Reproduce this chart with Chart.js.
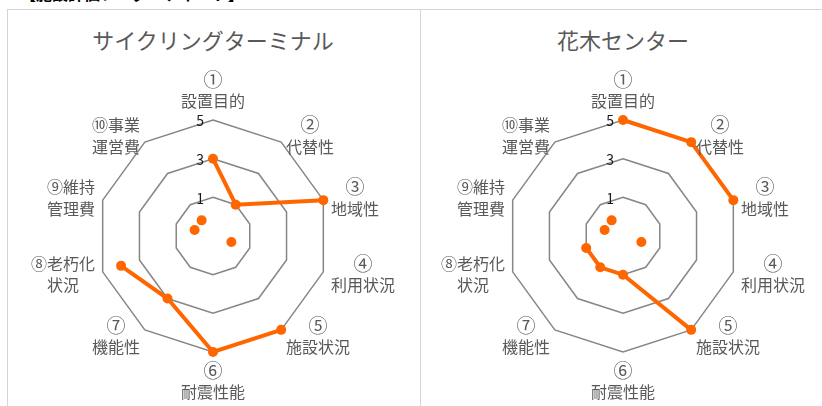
<!DOCTYPE html>
<html lang="ja">
<head>
<meta charset="utf-8">
<script src="https://cdn.jsdelivr.net/npm/chart.js@4/dist/chart.umd.min.js"></script>
<style>
  html, body { margin: 0; padding: 0; background: #fff; }
  body { width: 822px; height: 406px; position: relative; overflow: hidden;
         font-family: "Noto Sans CJK JP", "Noto Sans", sans-serif; }
  .header { position: absolute; left: 20px; top: -19px; font-size: 16px; font-weight: bold; color: #000; white-space: nowrap; }
  .frame { position: absolute; left: 7px; top: 9px; width: 830px; height: 410px;
           border-top: 1px solid #d4d4d4; border-left: 1px solid #d4d4d4; }
  .divider { position: absolute; left: 420px; top: 9px; height: 410px; border-left: 1px solid #d4d4d4; }
  .title { position: absolute; top: 24px; width: 420px; text-align: center; font-size: 22px; color: #595959; line-height: 30px; }
  canvas { position: absolute; top: 0; }
</style>
</head>
<body>
<div class="header">【施設評価レーダーチャート】</div>
<div class="frame"></div>
<div class="divider"></div>
<div class="title" style="left:3px">サイクリングターミナル</div>
<div class="title" style="left:413px">花木センター</div>
<canvas id="chartLeft" width="420" height="406" style="left:0px"></canvas>
<canvas id="chartRight" width="420" height="406" style="left:410px"></canvas>
<script>
// ============================ data

const categories = [
  ['①', '設置目的'], ['②', '代替性'], ['③', '地域性'], ['④', '利用状況'], ['⑤', '施設状況'],
  ['⑥', '耐震性能'], ['⑦', '機能性'], ['⑧老朽化', '状況'], ['⑨維持', '管理費'], ['⑩事業', '運営費']
];
const cyclingScores = [3, 1, 5, 0, 5, 5, 3, 4, 0, 0];
const flowerScores = [5, 5, 5, 0, 5, 1, 1, 1, 0, 0];
// items drawn only as a dot (no connecting line)
const unratedIndex = [3, 8, 9];
const tickValues = [1, 3, 5];

const orange = '#ff6600';
const labelFont = '16px "Noto Sans CJK JP", sans-serif';
const numberFont = '19px "Noto Sans CJK JP", sans-serif';

// ============================ text drawn on the radial scale

const radarText = {
  id: 'radarText',
  afterDraw(chart) {
    const r = chart.scales.r;
    const ctx = chart.ctx;
    ctx.save();

    ctx.font = '14px "Noto Sans CJK JP", sans-serif';
    ctx.fillStyle = '#1a1a1a';
    ctx.textAlign = 'right';
    ctx.textBaseline = 'middle';
    tickValues.forEach(v => {
      const y = r.yCenter - r.getDistanceFromCenterForValue(v);
      ctx.fillText(String(v), r.xCenter - 9, y + 1);
    });

    ctx.font = labelFont;
    ctx.fillStyle = '#595959';
    ctx.textAlign = 'center';
    const lh = 21.5;
    chart.data.labels.forEach((lines, i) => {
      const p = r.getPointPosition(i, r.drawingArea + 8);
      const a = r.getIndexAngle(i);
      const s = Math.sin(a), c = Math.cos(a);
      const w = Math.max(...lines.map(l => ctx.measureText(l).width));
      const h = lines.length * lh;
      let cx = p.x;
      let top = p.y - h / 2;
      if (s > 0.01) cx = p.x + w / 2;
      else if (s < -0.01) cx = p.x - w / 2;
      else top = c > 0 ? p.y - h : p.y;
      lines.forEach((l, k) => {
        // a line holding only the circled number is drawn a bit larger
        ctx.font = l.length === 1 ? numberFont : labelFont;
        ctx.fillText(l, cx, top + lh * (k + 0.5));
      });
      ctx.font = labelFont;
    });
    ctx.restore();
  }
};

function makeRadar(id, scores) {
  const lineData = scores.map((v, i) => unratedIndex.includes(i) ? null : v);
  const dotData = scores.map((v, i) => unratedIndex.includes(i) ? v : null);
  return new Chart(document.getElementById(id), {
    type: 'radar',
    data: {
      labels: categories,
      datasets: [
        {
          data: lineData,
          borderColor: orange,
          backgroundColor: orange,
          borderWidth: 4,
          fill: false,
          spanGaps: false,
          pointRadius: 5,
          pointBorderWidth: 0,
          pointBackgroundColor: orange
        },
        {
          data: dotData,
          showLine: false,
          fill: false,
          borderColor: 'transparent',
          backgroundColor: 'transparent',
          pointRadius: 5,
          pointBorderWidth: 0,
          pointBackgroundColor: orange
        }
      ]
    },
    options: {
      responsive: false,
      animation: false,
      layout: { padding: { left: 97, right: 91, top: 120, bottom: 54 } },
      plugins: { legend: { display: false }, tooltip: { enabled: false } },
      scales: {
        r: {
          min: -1,
          max: 5,
          ticks: { display: false, stepSize: 2 },
          angleLines: { display: false },
          grid: { color: '#868686', lineWidth: 1.5 },
          pointLabels: { display: false }
        }
      }
    },
    plugins: [radarText]
  });
}

makeRadar('chartLeft', cyclingScores);
makeRadar('chartRight', flowerScores);
</script>
</body>
</html>
